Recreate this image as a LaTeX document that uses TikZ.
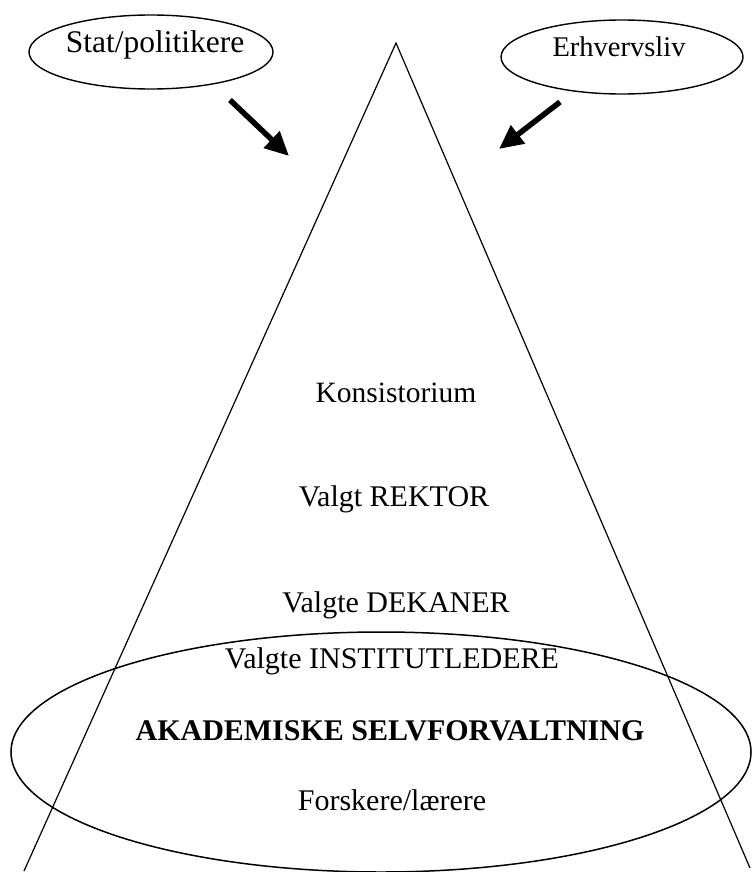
\documentclass[tikz,border=0pt]{standalone}
\usepackage{fontspec}
\setmainfont{Liberation Serif}
\usetikzlibrary{arrows.meta,shapes.geometric}
\tikzset{
  outer/.style={draw, line width=1.4pt, ellipse, minimum width=244pt, minimum height=74pt, inner sep=0pt},
  outerlabel/.style={inner sep=0pt, anchor=base},
  level/.style={font=\fontsize{30}{34}\selectfont, inner sep=0pt, anchor=base},
  push/.style={line width=5.5pt, -{Triangle[length=24pt,width=22pt]}},
  side/.style={line width=1.2pt},
}
\begin{document}
\begin{tikzpicture}[x=1pt,y=-1pt]
\useasboundingbox (0,0) rectangle (752,872);
% cone
\coordinate (apex) at (396,43);
\coordinate (bl) at (24,871);
\coordinate (br) at (750,868);
\draw[side] (bl) -- (apex) -- (br);
% outer actors
\node[outer] (stat) at (151,52) {};
\node[outerlabel, font=\fontsize{31.5}{34}\selectfont] (statlbl) at (155,53) {Stat/politikere};
\node[outer, minimum width=242pt] (erh) at (622,57) {};
\node[outerlabel, font=\fontsize{28.5}{34}\selectfont] (erhlbl) at (619,57) {Erhvervsliv};
% pressure arrows
\coordinate (s1) at (230,100);
\coordinate (s2) at (289,156);
\coordinate (e1) at (560,102);
\coordinate (e2) at (499,149);
\draw[push] (s1) -- (s2);
\draw[push] (e1) -- (e2);
% levels
\node[level, font=\fontsize{29.5}{34}\selectfont] (kons) at (396,402) {Konsistorium};
\node[level] (rek) at (394,506) {Valgt REKTOR};
\node[level] (dek) at (396,612) {Valgte DEKANER};
\node[level] (inst) at (392,668) {Valgte INSTITUTLEDERE};
\node[level, font=\fontsize{30}{34}\selectfont\bfseries] (aka) at (390,740) {AKADEMISKE SELVFORVALTNING};
\node[level] (fors) at (392,810) {Forskere/lærere};
% self-governance ellipse
\draw[line width=1.5pt] (381,752) ellipse [x radius=370, y radius=120];
\end{tikzpicture}
\end{document}
